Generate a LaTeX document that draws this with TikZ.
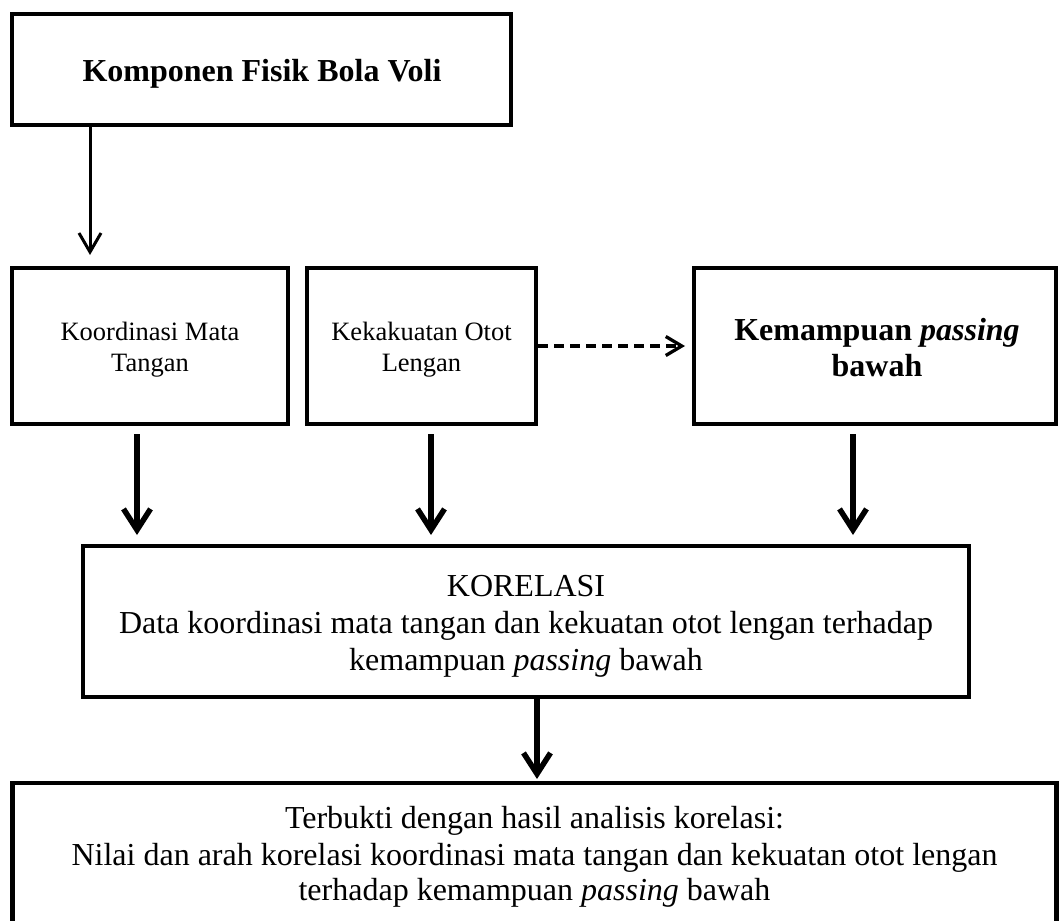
\documentclass[tikz,border=0pt]{standalone}
\usepackage{fontspec}
\setmainfont{Liberation Serif}
\usetikzlibrary{arrows.meta}
\tikzset{
  box/.style={draw, line width=4.3pt, inner sep=0pt, outer sep=0pt},
  txt/.style={anchor=base, inner sep=0pt, outer sep=0pt},
  big/.style={font=\fontsize{32}{37}\selectfont},
  bigbold/.style={font=\fontsize{32}{37}\selectfont\bfseries},
  small/.style={font=\fontsize{26.5}{31}\selectfont},
  thinarrow/.style={line width=3pt, -{Straight Barb[length=19pt,width=22pt]}},
  thickarrow/.style={line width=5.5pt, -{Straight Barb[length=21pt,width=27pt]}},
  dasharrow/.style={line width=3.3pt, dash pattern=on 10pt off 6pt, -{Straight Barb[length=16pt,width=19pt]}},
}
\begin{document}
\begin{tikzpicture}[x=1pt,y=-1pt]
\useasboundingbox (0,0) rectangle (1059,920);
\clip (0,0) rectangle (1059,920);

% boxes
\node[box, minimum width=499pt, minimum height=111pt] (top) at (261.5,69.5) {};
\node[box, minimum width=276pt, minimum height=156pt] (b2) at (150,346) {};
\node[box, minimum width=229pt, minimum height=156pt] (b3) at (421.5,346) {};
\node[box, minimum width=362pt, minimum height=156pt] (b4) at (875,346) {};
\node[box, minimum width=886pt, minimum height=151pt] (kor) at (526,621.5) {};
\node[box, minimum width=1044pt, minimum height=177pt] (bot) at (534.5,871.5) {};

% texts
\node[txt, bigbold] (t0) at (262,82) {Komponen Fisik Bola Voli};
\node[txt, small] (t21) at (150,340) {Koordinasi Mata};
\node[txt, small] (t22) at (150,371) {Tangan};
\node[txt, small] (t31) at (421.5,340) {Kekakuatan Otot};
\node[txt, small] (t32) at (421.5,371) {Lengan};
\node[txt, bigbold] (t41) at (877,340) {Kemampuan \textit{passing}};
\node[txt, bigbold] (t42) at (877,376) {bawah};
\node[txt, big] (k1) at (526,596) {KORELASI};
\node[txt, big] (k2) at (526,633) {Data koordinasi mata tangan dan kekuatan otot lengan terhadap};
\node[txt, big] (k3) at (526,670) {kemampuan \textit{passing} bawah};
\node[txt, big] (r1) at (534.5,828) {Terbukti dengan hasil analisis korelasi:};
\node[txt, big] (r2) at (534.5,865) {Nilai dan arah korelasi koordinasi mata tangan dan kekuatan otot lengan};
\node[txt, big] (r3) at (534.5,900) {terhadap kemampuan \textit{passing} bawah};

% connector columns
\coordinate (c1) at (90,0);
\coordinate (c2) at (137,0);
\coordinate (c3) at (431,0);
\coordinate (c4) at (853,0);
\coordinate (c5) at (537,0);

% connectors
\draw[thinarrow, shorten >=13pt] (top.south -| c1) -- (b2.north -| c1);
\draw[thickarrow, shorten <=10pt, shorten >=11pt] (b2.south -| c2) -- (kor.north -| c2);
\draw[thickarrow, shorten <=10pt, shorten >=11pt] (b3.south -| c3) -- (kor.north -| c3);
\draw[thickarrow, shorten <=10pt, shorten >=11pt] (b4.south -| c4) -- (kor.north -| c4);
\draw[thickarrow, shorten >=4pt] (kor.south -| c5) -- (bot.north -| c5);
\draw[dasharrow, shorten <=2pt, shorten >=9pt] (b3.east) -- (b4.west);
\end{tikzpicture}
\end{document}
